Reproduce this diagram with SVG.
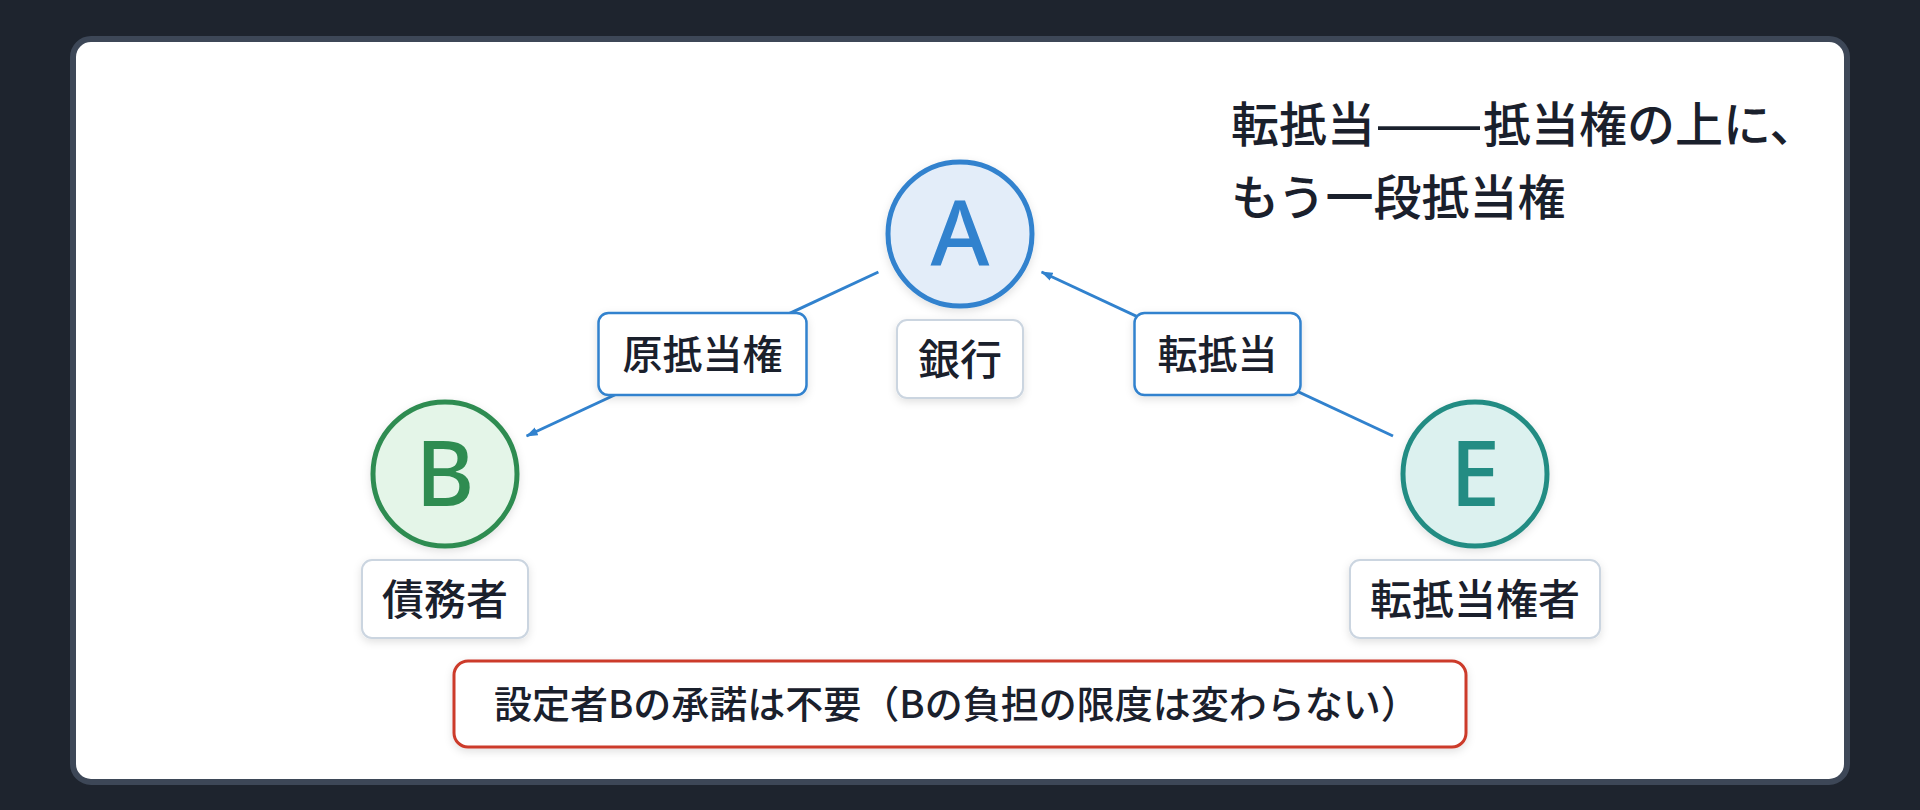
<svg xmlns="http://www.w3.org/2000/svg" width="1920" height="810" viewBox="0 0 1920 810">
<defs>
<style>
.t{font-family:"Noto Sans CJK JP","Noto Sans",sans-serif;fill:#1a202c;font-weight:500}
.letter{font-family:"Noto Sans","Noto Sans CJK JP",sans-serif;font-weight:500;font-size:90px;text-anchor:middle}
.nl{fill:#ffffff;stroke:#cbd5e0;stroke-width:2}
.el{fill:#ffffff;stroke:#3182ce;stroke-width:2.5}
.edge{stroke:#3182ce;stroke-width:3;fill:none}
</style>
<filter id="sh" x="-20%" y="-20%" width="140%" height="150%">
<feDropShadow dx="0" dy="3" stdDeviation="4" flood-color="#000000" flood-opacity="0.12"/>
</filter>
<marker id="arr" markerUnits="userSpaceOnUse" markerWidth="12" markerHeight="10" refX="11" refY="5" orient="auto">
<path d="M0,0.8 L12,5 L0,9.2 z" fill="#3182ce"/>
</marker>
</defs>
<rect x="0" y="0" width="1920" height="810" fill="#1e242e"/>
<rect x="73" y="39" width="1774" height="743" rx="18" fill="#ffffff" stroke="#3d4757" stroke-width="6"/>
<g id="title">
<text class="t" x="1231" y="142" font-size="48">転抵当<tspan textLength="108" lengthAdjust="spacingAndGlyphs">——</tspan>抵当権の上に、</text>
<text class="t" x="1231" y="215" font-size="48">もう一段抵当権</text>
</g>
<g id="connectors">
<line class="edge" x1="878.4" y1="272" x2="526.6" y2="436" marker-end="url(#arr)"/>
<line class="edge" x1="1393" y1="436" x2="1041.6" y2="272" marker-end="url(#arr)"/>
<g id="label-genteito">
<rect class="el" x="598.5" y="313" width="208" height="82" rx="10" filter="url(#sh)"/>
<text class="t" x="702.5" y="369" font-size="40" text-anchor="middle">原抵当権</text>
</g>
<g id="label-tenteito">
<rect class="el" x="1134.5" y="313" width="166" height="82" rx="10" filter="url(#sh)"/>
<text class="t" x="1217.5" y="369" font-size="40" text-anchor="middle">転抵当</text>
</g>
</g>
<g id="node-A">
<circle cx="960" cy="234" r="72" fill="#e3edf9" stroke="#3182ce" stroke-width="5" filter="url(#sh)"/>
<text class="letter" x="960" y="266" fill="#3182ce">A</text>
<rect class="nl" x="897" y="320" width="126" height="78" rx="10" filter="url(#sh)"/>
<text class="t" x="960" y="375" font-size="42" text-anchor="middle">銀行</text>
</g>
<g id="node-B">
<circle cx="445" cy="474" r="72" fill="#e4f5e8" stroke="#2f8c51" stroke-width="5" filter="url(#sh)"/>
<text class="letter" x="445" y="506" fill="#2f8c51">B</text>
<rect class="nl" x="362" y="560" width="166" height="78" rx="10" filter="url(#sh)"/>
<text class="t" x="445" y="615" font-size="42" text-anchor="middle">債務者</text>
</g>
<g id="node-E">
<circle cx="1475" cy="474" r="72" fill="#dcf1ef" stroke="#238c83" stroke-width="5" filter="url(#sh)"/>
<text class="letter" x="1475" y="506" fill="#238c83">E</text>
<rect class="nl" x="1350" y="560" width="250" height="78" rx="10" filter="url(#sh)"/>
<text class="t" x="1475" y="615" font-size="42" text-anchor="middle">転抵当権者</text>
</g>
<g id="note">
<rect x="454" y="661" width="1012" height="86" rx="14" fill="#ffffff" stroke="#cc3a2a" stroke-width="3" filter="url(#sh)"/>
<text class="t" x="494" y="718" font-size="38">設定者Bの承諾は不要（Bの負担の限度は変わらない）</text>
</g>
</svg>
